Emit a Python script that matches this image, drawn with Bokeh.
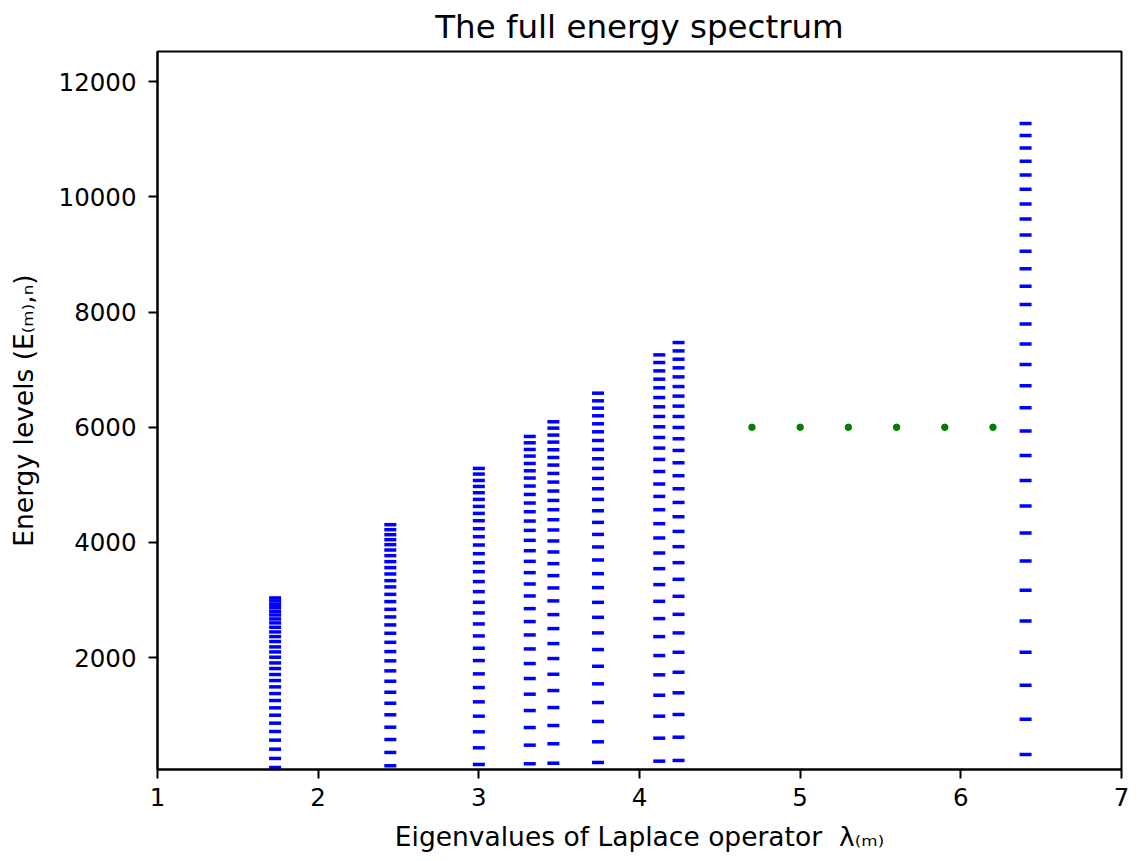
from bokeh.plotting import figure
from bokeh.models import FixedTicker, Range1d, ColumnDataSource
from bokeh.embed import file_html
from bokeh.resources import INLINE

# Eigenvalues of the Laplace operator (column positions)
lambdas = [1.732, 2.449, 3.0, 3.317, 3.464, 3.742, 4.123, 4.243, 6.403]

# Energy levels read per column
levels_1 = [92, 248, 409, 566, 716, 861, 999, 1127, 1254, 1375, 1491, 1601, 1705, 1809, 1907,
            2006, 2098, 2185, 2278, 2364, 2445, 2526, 2602, 2671, 2740, 2804, 2868, 2925, 2983, 3035]
levels_2 = [121, 352, 577, 791, 1006, 1207, 1398, 1589, 1769, 1943, 2104, 2265, 2422, 2567, 2706,
            2838, 2972, 3098, 3227, 3336, 3452, 3562, 3666, 3770, 3868, 3961, 4047, 4134, 4221, 4308]
levels_3 = [144, 433, 711, 982, 1231, 1479, 1717, 1948, 2162, 2376, 2584, 2775, 2960, 3145, 3319,
            3492, 3648, 3804, 3955, 4099, 4238, 4377, 4504, 4625, 4747, 4863, 4972, 5076, 5187, 5285]
levels_4 = [155, 479, 785, 1080, 1364, 1636, 1896, 2150, 2393, 2625, 2850, 3070, 3278, 3475, 3671,
            3856, 4036, 4209, 4371, 4533, 4684, 4833, 4979, 5118, 5244, 5371, 5499, 5614, 5730, 5840]
levels_5 = [166, 503, 820, 1132, 1427, 1710, 1983, 2243, 2503, 2746, 2984, 3209, 3423, 3631, 3834,
            4025, 4216, 4394, 4568, 4729, 4892, 5048, 5198, 5343, 5475, 5609, 5742, 5864, 5985, 6095]
levels_6 = [178, 537, 890, 1219, 1544, 1849, 2139, 2428, 2699, 2959, 3215, 3457, 3695, 3921, 4139,
            4348, 4550, 4747, 4932, 5111, 5285, 5453, 5614, 5770, 5921, 6060, 6199, 6332, 6459, 6592]
levels_7 = [201, 600, 982, 1346, 1700, 2035, 2364, 2677, 2977, 3267, 3544, 3816, 4077, 4325, 4568,
            4799, 5014, 5232, 5441, 5638, 5822, 6008, 6187, 6355, 6516, 6685, 6835, 6979, 7124, 7257]
levels_8 = [213, 617, 1011, 1388, 1745, 2092, 2428, 2751, 3064, 3359, 3648, 3926, 4191, 4446, 4694,
            4932, 5158, 5383, 5597, 5800, 5996, 6187, 6367, 6541, 6707, 6875, 7032, 7182, 7326, 7471]
levels_9 = [317, 929, 1519, 2092, 2637, 3168, 3678, 4164, 4632, 5076, 5510, 5933, 6338, 6719, 7089,
            7448, 7795, 8130, 8449, 8754, 9056, 9339, 9617, 9877, 10132, 10380, 10618, 10849, 11069, 11277]

all_levels = [levels_1, levels_2, levels_3, levels_4, levels_5,
              levels_6, levels_7, levels_8, levels_9]

# Green dotted gap markers
dots_x = [4.7, 5.0, 5.3, 5.6, 5.9, 6.2]
dots_y = [6000, 6000, 6000, 6000, 6000, 6000]

x_ticks = [1, 2, 3, 4, 5, 6, 7]
y_ticks = [2000, 4000, 6000, 8000, 10000, 12000]

xs, ys = [], []
for lam, lev in zip(lambdas, all_levels):
    for e in lev:
        xs.append(lam)
        ys.append(e)
src = ColumnDataSource(dict(x=xs, y=ys))

p = figure(frame_width=964, frame_height=718,
           x_range=Range1d(1, 7), y_range=Range1d(56, 12526),
           output_backend="svg", toolbar_location=None,
           min_border_left=157, min_border_right=18,
           min_border_top=51, min_border_bottom=84,
           background_fill_color="white", border_fill_color="white")

p.title.text = "The full energy spectrum"
p.title.align = "center"
p.title.vertical_align = "middle"
p.title.text_font = "DejaVu Sans"
p.title.text_font_size = "32.5px"
p.title.text_font_style = "normal"
p.title.text_color = "black"

p.xgrid.visible = False
p.ygrid.visible = False
p.outline_line_color = "black"
p.outline_line_width = 2

p.scatter("x", "y", source=src, marker="dash", size=12, line_width=3.5,
          line_color="#0000ff")
p.scatter(dots_x, dots_y, marker="circle", size=6.5, fill_color="#008000",
          line_color="#008000")

p.xaxis.ticker = FixedTicker(ticks=x_ticks)
p.yaxis.ticker = FixedTicker(ticks=y_ticks)
p.xaxis.axis_label = "Eigenvalues of Laplace operator\u00a0\u00a0λ₍ₘ₎"
p.yaxis.axis_label = "Energy levels (E₍ₘ₎,ₙ)"

for ax in (p.xaxis, p.yaxis):
    ax.axis_line_color = "black"
    ax.axis_line_width = 2
    ax.major_tick_line_color = "black"
    ax.major_tick_line_width = 2
    ax.major_tick_out = 9
    ax.major_tick_in = 0
    ax.minor_tick_line_color = None
    ax.major_label_text_font = "DejaVu Sans"
    ax.major_label_text_font_size = "24.5px"
    ax.major_label_text_color = "black"
    ax.axis_label_text_font = "DejaVu Sans"
    ax.axis_label_text_font_size = "26.5px"
    ax.axis_label_text_font_style = "normal"
    ax.axis_label_text_color = "black"

p.xaxis.major_label_standoff = 9
p.xaxis.axis_label_standoff = 12
p.yaxis.major_label_standoff = 12
p.yaxis.axis_label_standoff = 17

open("out.html", "w").write(file_html(p, INLINE))
